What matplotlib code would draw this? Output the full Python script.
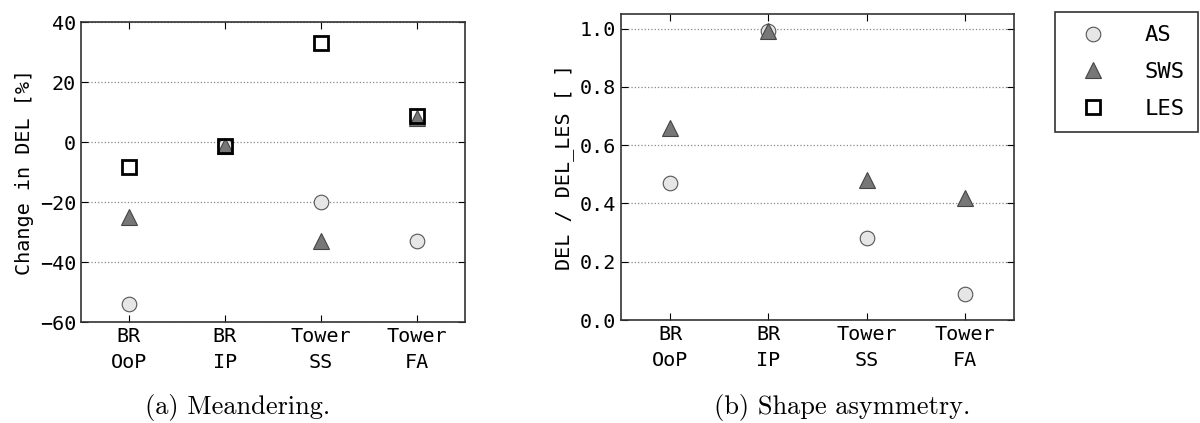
import matplotlib
matplotlib.use('Agg')
import matplotlib.pyplot as plt
from matplotlib.lines import Line2D

# categories on the x axis
categories = ['BR\nOoP', 'BR\nIP', 'Tower\nSS', 'Tower\nFA']

# (a) meandering: change in DEL [%]
meander_as = [-54, -1.5, -20, -33]
meander_sws = [-25, -1.5, -33, 8]
meander_les = [-8.5, -1.5, 33, 8.5]

# (b) shape asymmetry: DEL / DEL_LES
shape_as = [0.47, 0.99, 0.28, 0.09]
shape_sws = [0.66, 0.99, 0.48, 0.42]

left_ticks = [-60, -40, -20, 0, 20, 40]
right_ticks = [0.0, 0.2, 0.4, 0.6, 0.8, 1.0]

plt.rcParams['font.family'] = 'DejaVu Sans Mono'

as_style = dict(marker='o', linestyle='none', markersize=10.5,
                markerfacecolor='#e6e6e6', markeredgecolor='#555555', markeredgewidth=0.8)
sws_style = dict(marker='^', linestyle='none', markersize=11,
                 markerfacecolor='#777777', markeredgecolor='#444444', markeredgewidth=0.8)
les_style = dict(marker='s', linestyle='none', markersize=10.5,
                 markerfacecolor='none', markeredgecolor='black', markeredgewidth=2)

fig = plt.figure(figsize=(12, 4.23), dpi=100)
ax1 = fig.add_axes([81 / 1200, 101 / 423, 384 / 1200, 300 / 423])
ax2 = fig.add_axes([621 / 1200, 103 / 423, 393 / 1200, 306 / 423])

x = range(len(categories))


def style_axes(ax):
    ax.set_xlim(-0.5, 3.5)
    ax.set_xticks(list(x))
    ax.set_xticklabels(categories, linespacing=1.45)
    ax.tick_params(direction='in', top=True, right=True, labelsize=14.5, length=5, width=0.8)
    ax.yaxis.grid(True, linestyle=':', color='#888888', linewidth=0.9)
    ax.set_axisbelow(True)
    for s in ax.spines.values():
        s.set_linewidth(1.2)
        s.set_color('#333333')


ax1.plot(x, meander_as, **as_style)
ax1.plot(x, meander_sws, **sws_style)
ax1.plot(x, meander_les, **les_style)
ax1.set_ylim(-60, 40)
ax1.set_yticks(left_ticks)
ax1.set_yticklabels(['\u221260', '\u221240', '\u221220', '0', '20', '40'])
ax1.set_ylabel('Change in DEL [%]', fontsize=14.5, labelpad=4)
style_axes(ax1)

ax2.plot(x, shape_as, **as_style)
ax2.plot(x, shape_sws, **sws_style)
ax2.set_ylim(0, 1.05)
ax2.set_yticks(right_ticks)
ax2.set_yticklabels(['%.1f' % t for t in right_ticks])
ax2.set_ylabel('DEL / DEL_LES [ ]', fontsize=14.5, labelpad=4)
style_axes(ax2)

handles = [Line2D([], [], **as_style), Line2D([], [], **sws_style), Line2D([], [], **les_style)]
leg = fig.legend(handles, ['AS', 'SWS', 'LES'], loc='upper left',
                 bbox_to_anchor=(1055 / 1200, 1 - 12 / 423), borderaxespad=0,
                 fontsize=16, frameon=True, fancybox=False, borderpad=0.6,
                 labelspacing=0.75, handletextpad=1.25, handlelength=2.2, numpoints=1)
leg.get_frame().set_edgecolor('black')
leg.get_frame().set_linewidth(1.2)

fig.text(238 / 1200, 1 - 407 / 423, '(a) Meandering.', fontfamily='cmr10',
         fontsize=19, ha='center', va='center')
fig.text(842 / 1200, 1 - 407 / 423, '(b) Shape asymmetry.', fontfamily='cmr10',
         fontsize=19, ha='center', va='center')

fig.savefig('out.png', dpi=100)
